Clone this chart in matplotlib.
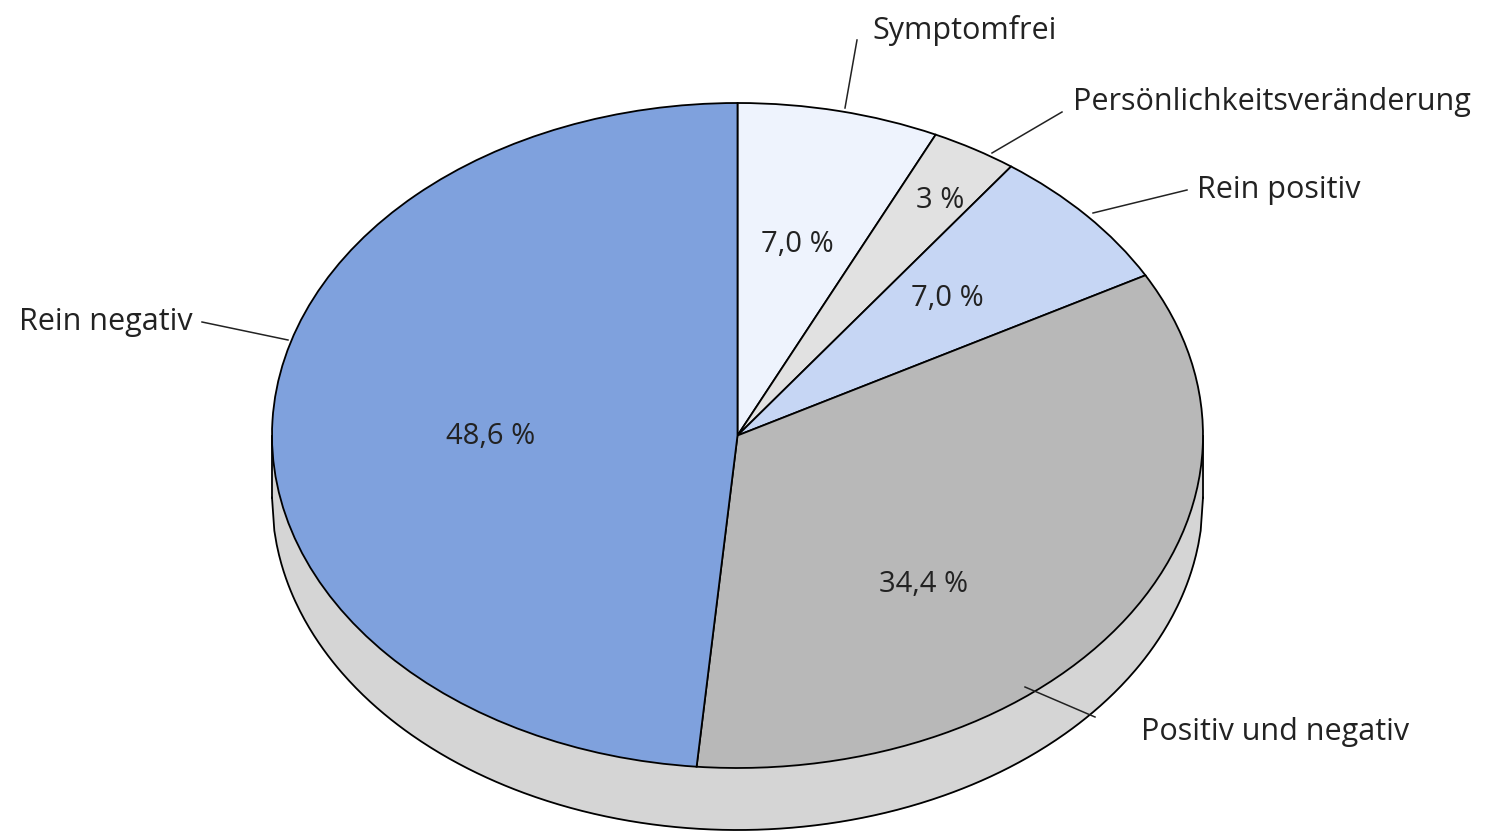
#IMPORT NECESSARY LIBRARIES
import numpy as np
import matplotlib
matplotlib.use("Agg")
import matplotlib.pyplot as plt


#DATA (clockwise from the top)
labels = ["Symptomfrei", "Persönlichkeitsveränderung", "Rein positiv",
          "Positiv und negativ", "Rein negativ"]
values = [7.0, 3.0, 7.0, 34.4, 48.6]
pct_text = ["7,0 %", "3 %", "7,0 %", "34,4 %", "48,6 %"]
colors = ["#eef3fd", "#e1e1e1", "#c6d6f4", "#b8b8b8", "#7fa1dd"]
side_color = "#d5d5d5"

plt.rcParams["font.family"] = ["Open Sans", "DejaVu Sans"]

#GEOMETRY OF THE TILTED PIE (pixels of the target picture)
W, H = 1493, 835
cx, cy = 737.5, 435.5     # centre of top face
rx, ry = 465.5, 332.5     # half axes of top face
depth = 62 / ry           # thickness, in units of ry

fig = plt.figure(figsize=(W / 100, H / 100), dpi=100)
ax = fig.add_axes([0, 0, 1, 1])

#SIDE OF THE DISC
xs = np.linspace(-1, 1, 400)
low = -np.sqrt(1 - xs**2)
ax.fill_between(xs, low - depth, low, color=side_color, lw=0, zorder=1)
ax.plot(xs, low - depth, color="black", lw=1.3, zorder=2)
ax.plot([-1, -1], [0, -depth], color="black", lw=1.3, zorder=2)
ax.plot([1, 1], [0, -depth], color="black", lw=1.3, zorder=2)

#TOP FACE
wedges, _ = ax.pie(values, colors=colors, startangle=90, counterclock=False,
                   wedgeprops=dict(edgecolor="black", linewidth=1.3), frame=True)
for w in wedges:
    w.set_zorder(3)

ax.set_aspect("auto")
ax.set_xlim(-cx / rx, (W - cx) / rx)
ax.set_ylim(-(H - cy) / ry, cy / ry)
ax.axis("off")

#PERCENT LABELS INSIDE (radius, angle-shift in degrees)
pct_r = [0.59, 0.83, 0.61, 0.60, 0.53]
pct_shift = [0, -1, 1, -15, 3]
cum = np.cumsum([0] + values[:-1])
for i, v in enumerate(values):
    mid = np.deg2rad(90 - (cum[i] + v / 2) * 3.6 + pct_shift[i])
    ax.text(pct_r[i] * np.cos(mid), pct_r[i] * np.sin(mid), pct_text[i],
            ha="center", va="center", fontsize=21, color="#222222", zorder=5)

#OUTER LABELS WITH LEADER LINES (pixel positions)
def px(x, y):
    return (x - cx) / rx, (cy - y) / ry

label_pos = [(872, 30, "left"), (1073, 102, "left"), (1197, 190, "left"),
             (1141, 732, "left"), (193, 322, "right")]
leader = [((857, 40), (845, 108)), ((1062, 112), (992, 153)),
          ((1187, 190), (1093, 213)), ((1095, 717), (1025, 687)),
          ((202, 322), (288, 340))]
for i, lab in enumerate(labels):
    x, y, ha = label_pos[i]
    ax.text(*px(x, y), lab, ha=ha, va="center", fontsize=22,
            color="#222222", zorder=5)
    (x0, y0), (x1, y1) = leader[i]
    p0, p1 = px(x0, y0), px(x1, y1)
    ax.plot([p0[0], p1[0]], [p0[1], p1[1]], color="#222222", lw=1.1, zorder=6)

fig.savefig("out.png", dpi=100)
